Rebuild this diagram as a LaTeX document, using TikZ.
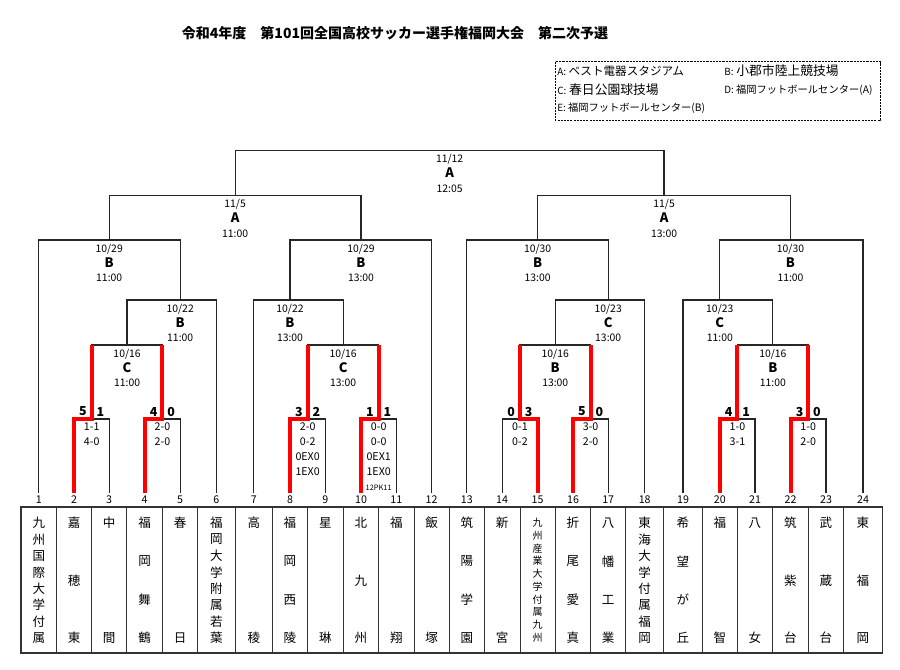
\documentclass[tikz,border=0pt]{standalone}
\usepackage{fontspec}
\setmainfont{Noto Sans CJK JP}
\usetikzlibrary{
  positioning,
  calc
}

\begin{document}
\begin{tikzpicture}[
    x=0.75pt,
    y=-0.75pt,
    linha/.style={
        line width=0.9pt,
        black!85
    },
    vence/.style={
        line width=3pt,
        red,
        line join=miter
    },
    grade/.style={
        line width=0.7pt,
        black!80
    },
    jogo/.style={
        align=center,
        inner sep=0pt,
        anchor=north,
        font=\fontsize{7.8}{11}\selectfont
    },
    placar/.style={
        align=center,
        inner sep=0pt,
        anchor=north,
        font=\fontsize{8}{11.2}\selectfont
    },
    gols/.style={
        inner sep=0pt,
        font=\fontsize{9.3}{10}\selectfont\bfseries
    },
    numero/.style={
        inner sep=0pt,
        font=\fontsize{8}{9}\selectfont
    },
    letra/.style={
        inner sep=0pt,
        font=\fontsize{9.4}{10}\selectfont
    },
    letrinha/.style={
        inner sep=0pt,
        font=\fontsize{7.5}{8}\selectfont
    },
    legenda/.style={
        anchor=west,
        inner sep=0pt,
        font=\fontsize{8.7}{10}\selectfont
    }
]
\useasboundingbox (0,0) rectangle (900,669);

% ============================================================
% TITULO E LEGENDA
% ============================================================

\node[font=\fontsize{10.5}{12}\selectfont\bfseries] (titulo) at (395,33)
    {令和4年度　第101回全国高校サッカー選手権福岡大会　第二次予選};

\draw[line width=0.7pt, dash pattern=on 1.6pt off 0.8pt] (555,61.7) rectangle (880.7,120);
\node[legenda] (la) at (557,71) {{\fontsize{7.4}{8}\selectfont A:}\ ベスト電器スタジアム};
\node[legenda, font=\fontsize{9.6}{10}\selectfont] (lb) at (724,71) {{\fontsize{7.4}{8}\selectfont B:}\ 小郡市陸上競技場};
\node[legenda, font=\fontsize{9.6}{10}\selectfont] (lc) at (557,90) {{\fontsize{7.4}{8}\selectfont C:}\ 春日公園球技場};
\node[legenda, font=\fontsize{7.7}{9}\selectfont] (ld) at (724,90) {{\fontsize{7.4}{8}\selectfont D:}\ 福岡フットボールセンター(A)};
\node[legenda, font=\fontsize{7.7}{9}\selectfont] (le) at (557,108.3) {{\fontsize{7.4}{8}\selectfont E:}\ 福岡フットボールセンター(B)};

% ============================================================
% EQUIPES
% ============================================================

\foreach \n/\xl/\xr in {1/21/56.7, 2/56.7/91.7, 3/91.7/126.7, 4/126.7/162.7,
    5/162.7/197.7, 6/197.7/235, 7/235/272.7, 8/272.7/307.3, 9/307.3/343.3,
    10/343.3/378.7, 11/378.7/414, 12/414/449.3, 13/449.3/484.3, 14/484.3/520,
    15/520/555.3, 16/555.3/590.7, 17/590.7/625.7, 18/625.7/663.7,
    19/663.7/702.3, 20/702.3/737.3, 21/737.3/772.7, 22/772.7/808.3,
    23/808.3/843.7, 24/843.7/882.3} {
    \node[numero] (num\n) at ({(\xl+\xr)/2},500) {\n};
    \coordinate (top\n) at ({(\xl+\xr)/2},493);
    \draw[grade] (\xr,507) -- (\xr,653);
}
\draw[grade, line width=1pt] (21,507) rectangle (882.3,653);

\foreach \c [count=\i] in {九,州,国,際,大,学,付,属} \node[letra] (nome1-\i) at ($(num1)+(0,{23+(\i-1)*115/7})$) {\c};
\foreach \c [count=\i] in {嘉,穂,東} \node[letra] (nome2-\i) at ($(num2)+(0,{23+(\i-1)*115/2})$) {\c};
\foreach \c [count=\i] in {中,間} \node[letra] (nome3-\i) at ($(num3)+(0,{23+(\i-1)*115})$) {\c};
\foreach \c [count=\i] in {福,岡,舞,鶴} \node[letra] (nome4-\i) at ($(num4)+(0,{23+(\i-1)*115/3})$) {\c};
\foreach \c [count=\i] in {春,日} \node[letra] (nome5-\i) at ($(num5)+(0,{23+(\i-1)*115})$) {\c};
\foreach \c [count=\i] in {福,岡,大,学,附,属,若,葉} \node[letra] (nome6-\i) at ($(num6)+(0,{23+(\i-1)*115/7})$) {\c};
\foreach \c [count=\i] in {高,稜} \node[letra] (nome7-\i) at ($(num7)+(0,{23+(\i-1)*115})$) {\c};
\foreach \c [count=\i] in {福,岡,西,陵} \node[letra] (nome8-\i) at ($(num8)+(0,{23+(\i-1)*115/3})$) {\c};
\foreach \c [count=\i] in {星,琳} \node[letra] (nome9-\i) at ($(num9)+(0,{23+(\i-1)*115})$) {\c};
\foreach \c [count=\i] in {北,九,州} \node[letra] (nome10-\i) at ($(num10)+(0,{23+(\i-1)*115/2})$) {\c};
\foreach \c [count=\i] in {福,翔} \node[letra] (nome11-\i) at ($(num11)+(0,{23+(\i-1)*115})$) {\c};
\foreach \c [count=\i] in {飯,塚} \node[letra] (nome12-\i) at ($(num12)+(0,{23+(\i-1)*115})$) {\c};
\foreach \c [count=\i] in {筑,陽,学,園} \node[letra] (nome13-\i) at ($(num13)+(0,{23+(\i-1)*115/3})$) {\c};
\foreach \c [count=\i] in {新,宮} \node[letra] (nome14-\i) at ($(num14)+(0,{23+(\i-1)*115})$) {\c};
\foreach \c [count=\i] in {九,州,産,業,大,学,付,属,九,州} \node[letrinha] (nome15-\i) at ($(num15)+(0,{22.7+(\i-1)*115/9})$) {\c};
\foreach \c [count=\i] in {折,尾,愛,真} \node[letra] (nome16-\i) at ($(num16)+(0,{23+(\i-1)*115/3})$) {\c};
\foreach \c [count=\i] in {八,幡,工,業} \node[letra] (nome17-\i) at ($(num17)+(0,{23+(\i-1)*115/3})$) {\c};
\foreach \c [count=\i] in {東,海,大,学,付,属,福,岡} \node[letra] (nome18-\i) at ($(num18)+(0,{23+(\i-1)*115/7})$) {\c};
\foreach \c [count=\i] in {希,望,が,丘} \node[letra] (nome19-\i) at ($(num19)+(0,{23+(\i-1)*115/3})$) {\c};
\foreach \c [count=\i] in {福,智} \node[letra] (nome20-\i) at ($(num20)+(0,{23+(\i-1)*115})$) {\c};
\foreach \c [count=\i] in {八,女} \node[letra] (nome21-\i) at ($(num21)+(0,{23+(\i-1)*115})$) {\c};
\foreach \c [count=\i] in {筑,紫,台} \node[letra] (nome22-\i) at ($(num22)+(0,{23+(\i-1)*115/2})$) {\c};
\foreach \c [count=\i] in {武,蔵,台} \node[letra] (nome23-\i) at ($(num23)+(0,{23+(\i-1)*115/2})$) {\c};
\foreach \c [count=\i] in {東,福,岡} \node[letra] (nome24-\i) at ($(num24)+(0,{23+(\i-1)*115/2})$) {\c};

% ============================================================
% PONTOS DAS PARTIDAS
% ============================================================

\coordinate (m1) at ($(top2)!0.5!(top3)+(0,-74)$);
\coordinate (m2) at ($(top4)!0.5!(top5)+(0,-74)$);
\coordinate (m3) at ($(top8)!0.5!(top9)+(0,-74)$);
\coordinate (m4) at ($(top10)!0.5!(top11)+(0,-74)$);
\coordinate (m5) at ($(top14)!0.5!(top15)+(0,-74)$);
\coordinate (m6) at ($(top16)!0.5!(top17)+(0,-74)$);
\coordinate (m7) at ($(top20)!0.5!(top21)+(0,-74)$);
\coordinate (m8) at ($(top22)!0.5!(top23)+(0,-74)$);

\coordinate (q1) at ($(m1)!0.5!(m2)+(0,-74)$);
\coordinate (q2) at ($(m3)!0.5!(m4)+(0,-74)$);
\coordinate (q3) at ($(m5)!0.5!(m6)+(0,-74)$);
\coordinate (q4) at ($(m7)!0.5!(m8)+(0,-74)$);

\coordinate (r1) at ($(top5)+(0,-193)$);
\coordinate (r2) at ($(top8)+(0,-193)$);
\coordinate (r3) at ($(top17)+(0,-193)$);
\coordinate (r4) at ($(top20)+(0,-193)$);

\coordinate (s1) at ($(top3)+(0,-253)$);
\coordinate (s2) at ($(top10)+(0,-253)$);
\coordinate (s3) at ($(top15)+(0,-253)$);
\coordinate (s4) at ($(top22)+(0,-253)$);

\coordinate (f1) at ($(s1)!0.5!(s2)+(0,-44.7)$);
\coordinate (f2) at ($(s3)!0.5!(s4)+(0,-44.7)$);
\coordinate (fin) at ($(f1)!0.5!(f2)+(0,-45)$);

% ============================================================
% CHAVE
% ============================================================

\draw[linha] (top2) |- (m1) -| (top3);
\draw[linha] (top4) |- (m2) -| (top5);
\draw[linha] (top8) |- (m3) -| (top9);
\draw[linha] (top10) |- (m4) -| (top11);
\draw[linha] (top14) |- (m5) -| (top15);
\draw[linha] (top16) |- (m6) -| (top17);
\draw[linha] (top20) |- (m7) -| (top21);
\draw[linha] (top22) |- (m8) -| (top23);

\draw[linha] (m1) |- (q1) -| (m2);
\draw[linha] (m3) |- (q2) -| (m4);
\draw[linha] (m5) |- (q3) -| (m6);
\draw[linha] (m7) |- (q4) -| (m8);

\draw[linha] (q1) |- (r1) -| (top6);
\draw[linha] (top7) |- (r2) -| (q2);
\draw[linha] (q3) |- (r3) -| (top18);
\draw[linha] (top19) |- (r4) -| (q4);

\draw[linha] (top1) |- (s1) -| (r1);
\draw[linha] (r2) |- (s2) -| (top12);
\draw[linha] (top13) |- (s3) -| (r3);
\draw[linha] (r4) |- (s4) -| (top24);

\draw[linha] (s1) |- (f1) -| (s2);
\draw[linha] (s3) |- (f2) -| (s4);
\draw[linha] (f1) |- (fin) -| (f2);

% vencedores
\draw[vence] (top2) |- (m1) -- (m1 |- q1);
\draw[vence] (top4) |- (m2) -- (m2 |- q1);
\draw[vence] (top8) |- (m3) -- (m3 |- q2);
\draw[vence] (top10) |- (m4) -- (m4 |- q2);
\draw[vence] (top15) |- (m5) -- (m5 |- q3);
\draw[vence] (top16) |- (m6) -- (m6 |- q3);
\draw[vence] (top20) |- (m7) -- (m7 |- q4);
\draw[vence] (top22) |- (m8) -- (m8 |- q4);

% ============================================================
% DATAS E ESTADIOS
% ============================================================

\node[jogo] (jfin) at ($(fin)+(0,4)$) {11/12\\{\fontsize{9.8}{11}\selectfont\bfseries A}\\12:05};
\node[jogo] (jf1) at ($(f1)+(0,4)$) {11/5\\{\fontsize{9.8}{11}\selectfont\bfseries A}\\11:00};
\node[jogo] (jf2) at ($(f2)+(0,4)$) {11/5\\{\fontsize{9.8}{11}\selectfont\bfseries A}\\13:00};
\node[jogo] (js1) at ($(s1)+(0,4)$) {10/29\\{\fontsize{9.8}{11}\selectfont\bfseries B}\\11:00};
\node[jogo] (js2) at ($(s2)+(0,4)$) {10/29\\{\fontsize{9.8}{11}\selectfont\bfseries B}\\13:00};
\node[jogo] (js3) at ($(s3)+(0,4)$) {10/30\\{\fontsize{9.8}{11}\selectfont\bfseries B}\\13:00};
\node[jogo] (js4) at ($(s4)+(0,4)$) {10/30\\{\fontsize{9.8}{11}\selectfont\bfseries B}\\11:00};
\node[jogo] (jr1) at ($(r1)+(0,4)$) {10/22\\{\fontsize{9.8}{11}\selectfont\bfseries B}\\11:00};
\node[jogo] (jr2) at ($(r2)+(0,4)$) {10/22\\{\fontsize{9.8}{11}\selectfont\bfseries B}\\13:00};
\node[jogo] (jr3) at ($(r3)+(0,4)$) {10/23\\{\fontsize{9.8}{11}\selectfont\bfseries C}\\13:00};
\node[jogo] (jr4) at ($(r4)+(0,4)$) {10/23\\{\fontsize{9.8}{11}\selectfont\bfseries C}\\11:00};
\node[jogo] (jq1) at ($(q1)+(0,4)$) {10/16\\{\fontsize{9.8}{11}\selectfont\bfseries C}\\11:00};
\node[jogo] (jq2) at ($(q2)+(0,4)$) {10/16\\{\fontsize{9.8}{11}\selectfont\bfseries C}\\13:00};
\node[jogo] (jq3) at ($(q3)+(0,4)$) {10/16\\{\fontsize{9.8}{11}\selectfont\bfseries B}\\13:00};
\node[jogo] (jq4) at ($(q4)+(0,4)$) {10/16\\{\fontsize{9.8}{11}\selectfont\bfseries B}\\11:00};

% ============================================================
% PLACARES
% ============================================================

\node[gols] (g1a) at ($(m1)+(-8.7,-7.5)$) {5};
\node[gols] (g1b) at ($(m1)+(8.7,-7.5)$) {1};
\node[gols] (g2a) at ($(m2)+(-8.7,-7.5)$) {4};
\node[gols] (g2b) at ($(m2)+(8.7,-7.5)$) {0};
\node[gols] (g3a) at ($(m3)+(-8.7,-7.5)$) {3};
\node[gols] (g3b) at ($(m3)+(8.7,-7.5)$) {2};
\node[gols] (g4a) at ($(m4)+(-8.7,-7.5)$) {1};
\node[gols] (g4b) at ($(m4)+(8.7,-7.5)$) {1};
\node[gols] (g5a) at ($(m5)+(-8.7,-7.5)$) {0};
\node[gols] (g5b) at ($(m5)+(8.7,-7.5)$) {3};
\node[gols] (g6a) at ($(m6)+(-8.7,-7.5)$) {5};
\node[gols] (g6b) at ($(m6)+(8.7,-7.5)$) {0};
\node[gols] (g7a) at ($(m7)+(-8.7,-7.5)$) {4};
\node[gols] (g7b) at ($(m7)+(8.7,-7.5)$) {1};
\node[gols] (g8a) at ($(m8)+(-8.7,-7.5)$) {3};
\node[gols] (g8b) at ($(m8)+(8.7,-7.5)$) {0};

\node[placar] (p1) at ($(m1)+(0,3.8)$) {1-1\\4-0};
\node[placar] (p2) at ($(m2)+(0,3.8)$) {2-0\\2-0};
\node[placar] (p3) at ($(m3)+(0,3.8)$) {2-0\\0-2\\0EX0\\1EX0};
\node[placar] (p4) at ($(m4)+(0,3.8)$) {0-0\\0-0\\0EX1\\1EX0\\{\fontsize{5.6}{11.2}\selectfont 12PK11}};
\node[placar] (p5) at ($(m5)+(0,3.8)$) {0-1\\0-2};
\node[placar] (p6) at ($(m6)+(0,3.8)$) {3-0\\2-0};
\node[placar] (p7) at ($(m7)+(0,3.8)$) {1-0\\3-1};
\node[placar] (p8) at ($(m8)+(0,3.8)$) {1-0\\2-0};

\end{tikzpicture}
\end{document}
